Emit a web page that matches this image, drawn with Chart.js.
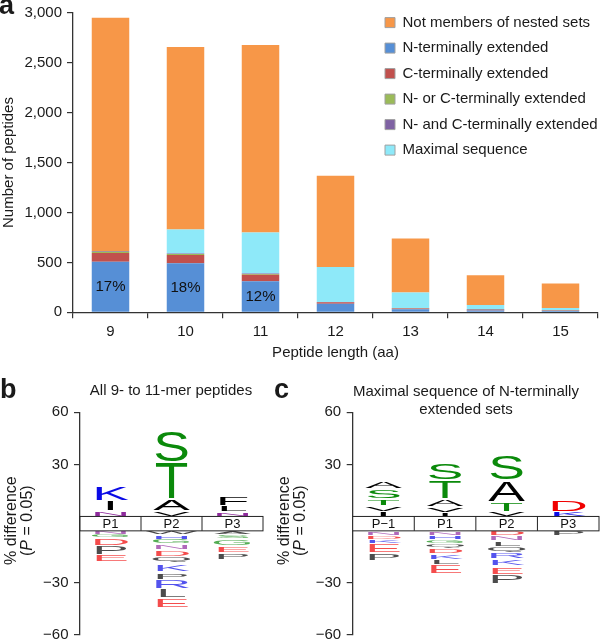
<!DOCTYPE html>
<html>
<head>
<meta charset="utf-8">
<script src="https://cdn.jsdelivr.net/npm/chart.js@4.4.1/dist/chart.umd.min.js"></script>
<style>
  html, body { margin: 0; padding: 0; background: #fff; overflow: hidden; }
  body { width: 600px; height: 641px; position: relative; font-family: "Liberation Sans", Arial, Helvetica, sans-serif; color: #1a1a1a; }
  .box { position: absolute; }
  .panel { position: absolute; font-weight: bold; font-size: 27px; line-height: 27px; }
  .title { position: absolute; width: 300px; font-size: 15px; line-height: 17.6px; text-align: center; white-space: nowrap; }
</style>
</head>
<body>
<div class="box" style="left:0;top:0;width:600px;height:366px"><canvas id="chartA"></canvas></div>
<div class="box" style="left:0;top:366px;width:270px;height:284px"><canvas id="chartB"></canvas></div>
<div class="box" style="left:270px;top:366px;width:330px;height:284px"><canvas id="chartC"></canvas></div>
<div class="panel" style="left:-1px;top:-8px">a</div>
<div class="panel" style="left:0;top:376px">b</div>
<div class="panel" style="left:274px;top:376px">c</div>
<div class="title" style="left:21px;top:381px">All 9- to 11-mer peptides</div>
<div class="title" style="left:316px;top:382px">Maximal sequence of N-terminally<br>extended sets</div>
<script>
const FONT = "'Liberation Sans', Arial, Helvetica, sans-serif";
Chart.defaults.font.family = FONT;
Chart.defaults.font.size = 15;
Chart.defaults.color = "#1a1a1a";

// ---- panel a : stacked bars
const peptideLengths = ["9", "10", "11", "12", "13", "14", "15"];
const nTerminal = [505, 490, 310, 85, 30, 18, 12];
const cTerminal = [90, 85, 65, 16, 8, 6, 3];
const nOrC = [12, 10, 8, 0, 2, 2, 2];
const nAndC = [8, 3, 5, 2, 4, 6, 5];
const maximalSeq = [0, 240, 410, 350, 155, 40, 22];
const notNested = [2335, 1830, 1880, 915, 540, 300, 245];
const nTermPct = ["17%", "18%", "12%", "", "", "", ""];

const seriesNames = [
  "N-terminally extended",
  "C-terminally extended",
  "N- or C-terminally extended",
  "N- and C-terminally extended",
  "Maximal sequence",
  "Not members of nested sets",
];
const seriesValues = [nTerminal, cTerminal, nOrC, nAndC, maximalSeq, notNested];
const seriesColors = ["#568fd6", "#c1504d", "#9bbb59", "#7f62a3", "#8ee9f9", "#f79748"];
const legendOrder = [5, 0, 1, 2, 3, 4];

// ---- panels b and c : sequence logos (% difference, letters listed from the axis outward)
const bPositions = ["P1", "P2", "P3"];
const bUpLetters = [["N", "I", "K"], ["V", "A", "T", "S"], ["N", "L", "F"]];
const bUpValues = [[3.1, 6.0, 8.5], [3.2, 7.1, 20.9, 19.3], [2.3, 3.9, 5.6]];
const bDownLetters = [
  ["N", "G", "D", "P", "E"],
  ["W", "H", "G", "N", "D", "Q", "K", "P", "R", "L", "E"],
  ["A", "S", "G", "E", "P"],
];
const bDownValues = [
  [1.8, 1.8, 4.9, 5.2, 4.5],
  [2.4, 2.4, 2.9, 3.3, 3.8, 4.0, 5.1, 4.3, 5.3, 5.3, 5.4],
  [2.25, 2.25, 4.2, 4.3, 4.0],
];

const cPositions = ["P\u22121", "P1", "P2", "P3"];
const cUpLetters = [["I", "V", "T", "S", "A"], ["I", "V", "A", "T", "S"], ["V", "T", "A", "S"], ["K", "D"]];
const cUpValues = [[2.9, 3.2, 3.75, 6.1, 4.6], [2.0, 3.5, 4.6, 10.4, 10.6], [2.6, 5.8, 12.4, 14.7], [2.6, 6.9]];
const cDownLetters = [
  ["N", "D", "K", "E", "P"],
  ["N", "H", "G", "Q", "D", "K", "L", "E"],
  ["D", "N", "L", "Q", "R", "K", "E", "P"],
  ["P"],
];
const cDownValues = [
  [2.5, 2.5, 2.4, 5.2, 4.5],
  [2.5, 2.4, 2.4, 2.6, 3.3, 3.3, 3.1, 5.3],
  [2.8, 3.1, 3.4, 3.5, 3.6, 4.0, 4.9, 5.2],
  [2.8],
];

const logoTicks = [60, 30, -30, -60];
const LOGO_GAP = 8.3; // height of the position box, in axis units

const letterColor = {
  K: "#0a0ae6", R: "#0a0ae6", H: "#0a0ae6",
  D: "#f00000", E: "#f00000",
  S: "#0b8a0b", T: "#0b8a0b", G: "#0b8a0b", Y: "#0b8a0b", C: "#0b8a0b",
  N: "#8e2a9c",
};

// ---------- panel a
const pctLabels = {
  id: "pctLabels",
  afterDatasetsDraw(chart) {
    const ctx = chart.ctx;
    const meta = chart.getDatasetMeta(0);
    ctx.save();
    ctx.font = "15px " + FONT;
    ctx.fillStyle = "#111";
    ctx.textAlign = "center";
    ctx.textBaseline = "middle";
    meta.data.forEach((bar, i) => {
      if (!nTermPct[i]) return;
      const p = bar.getProps(["x", "y", "base"], true);
      ctx.fillText(nTermPct[i], p.x, (p.y + p.base) / 2);
    });
    ctx.restore();
  },
};

const legendInside = {
  id: "legendInside",
  afterLayout(chart) {
    const lg = chart.legend;
    lg.left = 374.5;
    lg.right = lg.left + lg.width;
    lg.top = 4.6;
    lg.bottom = lg.top + lg.height;
  },
};

new Chart(document.getElementById("chartA"), {
  type: "bar",
  data: {
    labels: peptideLengths,
    datasets: seriesNames.map((name, i) => ({
      label: name,
      data: seriesValues[i],
      backgroundColor: seriesColors[i],
      borderWidth: 0,
      barPercentage: 0.5,
      categoryPercentage: 1,
    })),
  },
  options: {
    responsive: true,
    maintainAspectRatio: false,
    animation: false,
    events: [],
    layout: { padding: { left: 0, right: 2, top: 0, bottom: 0 } },
    plugins: {
      tooltip: { enabled: false },
      legend: {
        position: "chartArea",
        align: "start",
        labels: {
          boxWidth: 10,
          boxHeight: 10,
          padding: 10.5,
          color: "#1a1a1a",
          font: { size: 15 },
          sort: (a, b) => legendOrder.indexOf(a.datasetIndex) - legendOrder.indexOf(b.datasetIndex),
          generateLabels: (chart) =>
            Chart.defaults.plugins.legend.labels.generateLabels(chart).map((l) => ({
              ...l,
              strokeStyle: "#a0a0a0",
              lineWidth: 1,
            })),
        },
      },
    },
    scales: {
      x: {
        stacked: true,
        afterFit: (s) => { s.height = 53.7; },
        grid: { display: true, offset: true, drawOnChartArea: false, tickLength: 6, color: "#333", lineWidth: 1.2 },
        border: { color: "#333", width: 1.3 },
        ticks: { padding: 5, color: "#1a1a1a" },
        title: { display: true, text: "Peptide length (aa)", padding: { top: 3, bottom: 4 }, color: "#1a1a1a" },
      },
      y: {
        stacked: true,
        min: 0,
        max: 3000,
        afterFit: (s) => { s.width = 73; },
        grid: { drawOnChartArea: false, tickLength: 6, color: "#333", lineWidth: 1.2 },
        border: { color: "#333", width: 1.3 },
        ticks: { stepSize: 500, padding: 5, color: "#1a1a1a", font: { size: 15, lineHeight: 1.03 } },
        title: { display: true, text: "Number of peptides", padding: 0, color: "#1a1a1a" },
      },
    },
  },
  plugins: [pctLabels, legendInside],
});

// ---------- panels b and c
function drawGlyph(ctx, ch, color, cx, yTop, yBottom, alpha) {
  const h = yBottom - yTop;
  if (h <= 0.3) return;
  ctx.save();
  ctx.font = "55px " + FONT;
  const m = ctx.measureText(ch);
  const asc = m.actualBoundingBoxAscent;
  const desc = m.actualBoundingBoxDescent;
  ctx.translate(cx, yTop);
  ctx.scale(1, h / (asc + desc));
  ctx.globalAlpha = alpha;
  ctx.fillStyle = color;
  ctx.textAlign = "center";
  ctx.textBaseline = "alphabetic";
  ctx.fillText(ch, 0, asc);
  ctx.restore();
}

function logoPlugin(upLetters, upValues, downLetters, downValues) {
  return {
    id: "logo",
    afterDraw(chart) {
      const { ctx, chartArea: area } = chart;
      const xs = chart.scales.x;
      const ys = chart.scales.y;
      const labels = chart.data.labels;
      const half = (xs.getPixelForValue(1) - xs.getPixelForValue(0)) / 2;

      labels.forEach((lab, i) => {
        const cx = xs.getPixelForValue(i);
        let acc = 0;
        upLetters[i].forEach((ch, j) => {
          const v = upValues[i][j];
          const y0 = ys.getPixelForValue(acc);
          const y1 = ys.getPixelForValue(acc + v);
          const pad = Math.min(1, (y0 - y1) * 0.15);
          drawGlyph(ctx, ch, letterColor[ch] || "#000", cx, y1 + pad, y0 - pad, 1);
          acc += v;
        });
        acc = 0;
        downLetters[i].forEach((ch, j) => {
          const v = downValues[i][j];
          const y0 = ys.getPixelForValue(-LOGO_GAP - acc);
          const y1 = ys.getPixelForValue(-LOGO_GAP - acc - v);
          const pad = Math.min(1, (y1 - y0) * 0.15);
          drawGlyph(ctx, ch, letterColor[ch] || "#000", cx, y0 + pad, y1 - pad, 0.7);
          acc += v;
        });
      });

      // position box on the zero line
      const yTop = ys.getPixelForValue(0);
      const yBot = ys.getPixelForValue(-LOGO_GAP);
      ctx.save();
      ctx.fillStyle = "#fff";
      ctx.fillRect(area.left, yTop, area.right - area.left, yBot - yTop);
      ctx.strokeStyle = "#222";
      ctx.lineWidth = 1;
      ctx.strokeRect(area.left, yTop, area.right - area.left, yBot - yTop);
      ctx.font = "13px " + FONT;
      ctx.fillStyle = "#111";
      ctx.textAlign = "center";
      ctx.textBaseline = "middle";
      labels.forEach((lab, i) => {
        const cx = xs.getPixelForValue(i);
        if (i > 0) {
          ctx.beginPath();
          ctx.moveTo(cx - half, yTop);
          ctx.lineTo(cx - half, yBot);
          ctx.stroke();
        }
        ctx.fillText(lab, cx, (yTop + yBot) / 2 + 0.5);
      });
      ctx.restore();
    },
  };
}

const logoYTitle = {
  id: "logoYTitle",
  afterDraw(chart) {
    const { ctx, chartArea: area } = chart;
    const ax = chart.scales.y.right;
    const cy = (area.top + area.bottom) / 2 - 3;
    ctx.save();
    ctx.fillStyle = "#1a1a1a";
    ctx.textBaseline = "middle";
    ctx.translate(ax - 68.3, cy);
    ctx.rotate(-Math.PI / 2);
    ctx.font = "16px " + FONT;
    ctx.textAlign = "center";
    ctx.fillText("% difference", 0, 0);
    const parts = [["(", "normal"], ["P", "italic"], [" = 0.05)", "normal"]];
    const widths = parts.map(([t, st]) => {
      ctx.font = st + " 16px " + FONT;
      return ctx.measureText(t).width;
    });
    let x = -widths.reduce((a, b) => a + b, 0) / 2;
    ctx.textAlign = "left";
    parts.forEach(([t, st], k) => {
      ctx.font = st + " 16px " + FONT;
      ctx.fillText(t, x, 15.8);
      x += widths[k];
    });
    ctx.restore();
  },
};

function formatLogoTick(v) {
  const d = Math.round(v < 0 ? v + LOGO_GAP : v);
  return d < 0 ? "\u2212" + Math.abs(d) : String(d);
}

function logoChart(id, positions, upL, upV, downL, downV, axisWidth, padRight) {
  return new Chart(document.getElementById(id), {
    type: "bar",
    data: { labels: positions, datasets: [] },
    options: {
      responsive: true,
      maintainAspectRatio: false,
      animation: false,
      events: [],
      layout: { padding: { left: 0, right: padRight, top: 46.3, bottom: 15 } },
      plugins: { legend: { display: false }, tooltip: { enabled: false } },
      scales: {
        x: { type: "category", offset: true, display: false },
        y: {
          min: -60 - LOGO_GAP,
          max: 60,
          afterFit: (s) => { s.width = axisWidth; },
          afterBuildTicks: (s) => {
            s.ticks = logoTicks.map((v) => ({ value: v < 0 ? v - LOGO_GAP : v }));
          },
          grid: { drawOnChartArea: false, tickLength: 6, color: "#333", lineWidth: 1.2 },
          border: { color: "#333", width: 1.3 },
          ticks: { padding: 5.5, color: "#1a1a1a", callback: (v) => formatLogoTick(v) },
        },
      },
    },
    plugins: [logoPlugin(upL, upV, downL, downV), logoYTitle],
  });
}

logoChart("chartB", bPositions, bUpLetters, bUpValues, bDownLetters, bDownValues, 80, 7);
logoChart("chartC", cPositions, cUpLetters, cUpValues, cDownLetters, cDownValues, 82.7, 1);
</script>
</body>
</html>
